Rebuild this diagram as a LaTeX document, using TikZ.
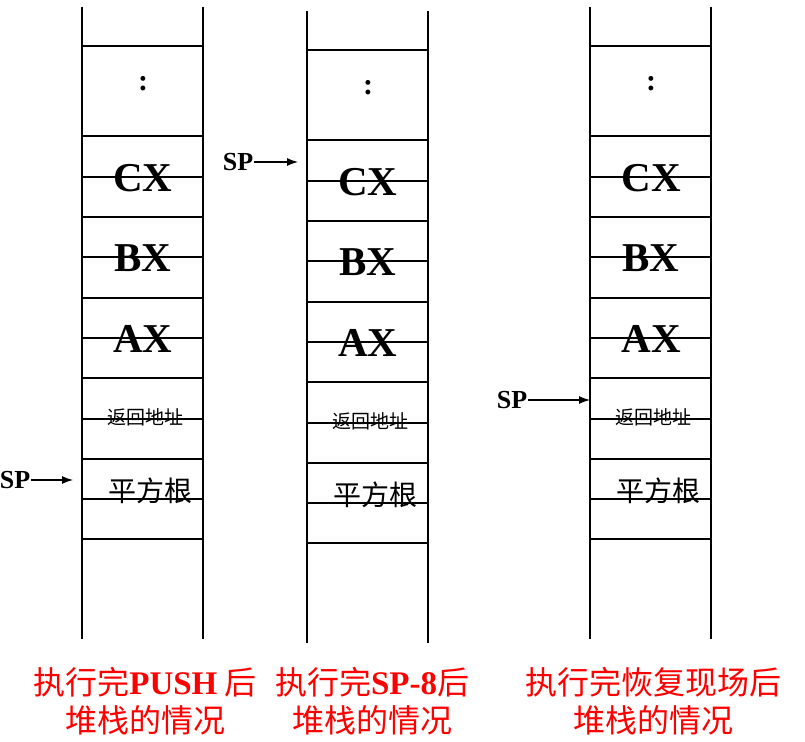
\documentclass[tikz,border=0pt]{standalone}
\usepackage{fontspec}
\setmainfont{Liberation Serif}
\newfontfamily\cjk{Noto Sans CJK SC}
\usetikzlibrary{arrows.meta}
\newcommand\lat[1]{{\rmfamily\bfseries\fontsize{33}{38}\selectfont #1}}

\begin{document}
\begin{tikzpicture}[x=1pt,y=-1pt,line width=1.4pt,
    reg/.style={font=\bfseries\fontsize{41}{41}\selectfont,inner sep=0pt},
    dots/.style={font=\bfseries\fontsize{30}{30}\selectfont,inner sep=0pt},
    ret/.style={font=\cjk\fontsize{19}{19}\selectfont,inner sep=0pt},
    root/.style={font=\cjk\fontsize{28}{28}\selectfont,inner sep=0pt},
    sp/.style={font=\bfseries\fontsize{26}{26}\selectfont,inner sep=0pt},
    caption/.style={font=\cjk\fontsize{32}{38}\selectfont,text=red,align=center,inner sep=0pt},
    ptr/.style={-{Latex[length=11pt,width=8pt]},line width=1.1pt}]

    \useasboundingbox (0,0) rectangle (805,741);

    %draw stacks:
    \foreach \x/\dy/\n in {82/0/a,307/4/b,590/0/c}{
        \draw (\x,7+\dy) -- (\x,639+\dy);
        \draw (\x+121,7+\dy) -- (\x+121,639+\dy);
        \foreach \y in {46,136,177,217,257,298,338,378,419,459,499,539}
            \draw (\x,\y+\dy) -- ++(121,0);
        %contents:
        \node[dots] (\n-dots) at (\x+61,84+\dy) {:};
        \node[reg] (\n-cx) at (\x+61,178+\dy) {CX};
        \node[reg] (\n-bx) at (\x+61,258+\dy) {BX};
        \node[reg] (\n-ax) at (\x+61,339+\dy) {AX};
        \node[ret] (\n-ret) at (\x+63.5,417+\dy) {返回地址};
        \node[root] (\n-root) at (\x+68,491+\dy) {平方根};
    }

    %stack pointers:
    \node[sp] (sp-a) at (15,480) {SP};
    \coordinate (top-a) at (73,480);
    \draw[ptr] (sp-a) -- (top-a);
    \node[sp] (sp-b) at (238,162) {SP};
    \coordinate (top-b) at (298,162);
    \draw[ptr] (sp-b) -- (top-b);
    \node[sp] (sp-c) at (512,400) {SP};
    \coordinate (top-c) at (590,400);
    \draw[ptr] (sp-c) -- (top-c);

    %captions:
    \node[caption] (cap-a) at (145,701) {执行完\lat{PUSH} 后\\堆栈的情况};
    \node[caption] (cap-b) at (372,701) {执行完\lat{SP-8}后\\堆栈的情况};
    \node[caption] (cap-c) at (653,701) {执行完恢复现场后\\堆栈的情况};

\end{tikzpicture}
\end{document}
